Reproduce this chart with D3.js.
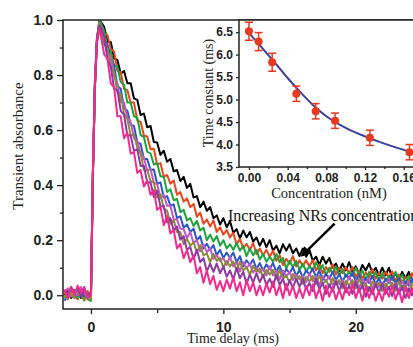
<!DOCTYPE html>
<html>
<head>
<meta charset="utf-8">
<script src="https://cdn.jsdelivr.net/npm/d3@7"></script>
<style>
  body { margin: 0; background: #fff; }
  svg { display: block; }
</style>
</head>
<body>
<svg id="chart" width="413" height="347"></svg>
<script>
// time axis shared by every trace (ms): baseline, rise, then decay every 0.25 ms
const time = [-2.0, -1.75, -1.5, -1.25, -1.0, -0.75, -0.5, -0.25, 0.0,
  0.15, 0.3, 0.45, 0.65,
  1.0, 1.25, 1.5, 1.75, 2.0, 2.25, 2.5, 2.75, 3.0, 3.25, 3.5, 3.75,
  4.0, 4.25, 4.5, 4.75, 5.0, 5.25, 5.5, 5.75, 6.0, 6.25, 6.5, 6.75,
  7.0, 7.25, 7.5, 7.75, 8.0, 8.25, 8.5, 8.75, 9.0, 9.25, 9.5, 9.75,
  10.0, 10.25, 10.5, 10.75, 11.0, 11.25, 11.5, 11.75, 12.0, 12.25, 12.5, 12.75,
  13.0, 13.25, 13.5, 13.75, 14.0, 14.25, 14.5, 14.75, 15.0, 15.25, 15.5, 15.75,
  16.0, 16.25, 16.5, 16.75, 17.0, 17.25, 17.5, 17.75, 18.0, 18.25, 18.5, 18.75,
  19.0, 19.25, 19.5, 19.75, 20.0, 20.25, 20.5, 20.75, 21.0, 21.25, 21.5, 21.75,
  22.0, 22.25, 22.5, 22.75, 23.0, 23.25, 23.5, 23.75, 24.0, 24.25, 24.5];

const traceColors = ["#000000", "#e8461e", "#1fa23e", "#2f55c2", "#c455c6", "#8c8a3a", "#8b3aa3", "#f02a8e"];

const blackTrace = [0.0, 0.02, -0.01, 0.01, 0.02, -0.01, 0.015, 0.0, -0.01,
  0.45, 0.77, 0.93, 1.0,
  0.975, 0.92, 0.92, 0.86, 0.855, 0.805, 0.815, 0.77, 0.77, 0.715, 0.71, 0.655,
  0.66, 0.61, 0.615, 0.557, 0.555, 0.51, 0.525, 0.485, 0.495, 0.45, 0.455, 0.415,
  0.43, 0.39, 0.405, 0.355, 0.36, 0.32, 0.34, 0.307, 0.32, 0.28, 0.29, 0.257,
  0.28, 0.247, 0.27, 0.227, 0.24, 0.207, 0.235, 0.21, 0.23, 0.195, 0.21, 0.18,
  0.205, 0.175, 0.20, 0.162, 0.18, 0.152, 0.185, 0.162, 0.185, 0.152, 0.17, 0.142,
  0.17, 0.14, 0.165, 0.125, 0.14, 0.11, 0.14, 0.115, 0.135, 0.10, 0.115, 0.087,
  0.115, 0.09, 0.12, 0.085, 0.105, 0.077, 0.11, 0.09, 0.115, 0.082, 0.10, 0.072,
  0.10, 0.072, 0.10, 0.062, 0.08, 0.052, 0.085, 0.062, 0.085, 0.052, 0.07];
const redTrace = [0.01, -0.01, 0.02, 0.0, -0.015, 0.02, 0.0, 0.015, 0.0,
  0.44, 0.76, 0.93, 1.0,
  0.95, 0.945, 0.895, 0.885, 0.815, 0.81, 0.75, 0.745, 0.70, 0.70, 0.635, 0.63,
  0.58, 0.577, 0.53, 0.532, 0.475, 0.48, 0.43, 0.437, 0.405, 0.417, 0.365, 0.375,
  0.34, 0.352, 0.32, 0.332, 0.285, 0.30, 0.26, 0.275, 0.25, 0.272, 0.23, 0.247,
  0.22, 0.237, 0.21, 0.227, 0.185, 0.205, 0.17, 0.187, 0.165, 0.19, 0.15, 0.17,
  0.145, 0.165, 0.14, 0.162, 0.125, 0.145, 0.11, 0.132, 0.115, 0.142, 0.105, 0.127,
  0.105, 0.127, 0.105, 0.127, 0.09, 0.112, 0.08, 0.102, 0.085, 0.112, 0.075, 0.10,
  0.08, 0.102, 0.08, 0.102, 0.065, 0.09, 0.06, 0.082, 0.065, 0.095, 0.06, 0.082,
  0.06, 0.085, 0.065, 0.087, 0.05, 0.075, 0.045, 0.067, 0.05, 0.08, 0.045];
const greenTrace = [-0.01, 0.01, 0.0, 0.02, -0.01, 0.0, 0.02, -0.015, -0.02,
  0.45, 0.77, 0.93, 1.0,
  0.96, 0.90, 0.885, 0.835, 0.83, 0.775, 0.765, 0.70, 0.70, 0.65, 0.645, 0.582,
  0.575, 0.522, 0.515, 0.475, 0.48, 0.432, 0.43, 0.375, 0.385, 0.345, 0.35, 0.302,
  0.31, 0.272, 0.28, 0.252, 0.27, 0.235, 0.245, 0.20, 0.22, 0.195, 0.215, 0.18,
  0.20, 0.17, 0.185, 0.165, 0.19, 0.162, 0.18, 0.142, 0.17, 0.145, 0.165, 0.13,
  0.15, 0.122, 0.14, 0.122, 0.15, 0.12, 0.135, 0.097, 0.125, 0.102, 0.125, 0.092,
  0.115, 0.087, 0.105, 0.09, 0.12, 0.092, 0.11, 0.072, 0.10, 0.08, 0.105, 0.072,
  0.095, 0.067, 0.085, 0.07, 0.10, 0.072, 0.09, 0.055, 0.085, 0.062, 0.085, 0.055,
  0.08, 0.052, 0.07, 0.055, 0.085, 0.057, 0.075, 0.04, 0.07, 0.047, 0.07];
const blueTrace = [-0.02, 0.0, 0.015, -0.01, 0.01, 0.02, -0.01, 0.005, -0.015,
  0.44, 0.76, 0.92, 0.99,
  0.925, 0.91, 0.855, 0.835, 0.76, 0.75, 0.68, 0.67, 0.62, 0.615, 0.555, 0.55,
  0.495, 0.495, 0.455, 0.457, 0.405, 0.41, 0.355, 0.36, 0.325, 0.33, 0.28, 0.287,
  0.245, 0.257, 0.23, 0.242, 0.20, 0.215, 0.17, 0.187, 0.165, 0.182, 0.145, 0.165,
  0.135, 0.155, 0.135, 0.155, 0.12, 0.142, 0.105, 0.127, 0.11, 0.13, 0.095, 0.117,
  0.09, 0.112, 0.095, 0.117, 0.085, 0.107, 0.07, 0.095, 0.08, 0.102, 0.07, 0.092,
  0.065, 0.09, 0.075, 0.097, 0.065, 0.09, 0.055, 0.077, 0.06, 0.085, 0.055, 0.077,
  0.05, 0.075, 0.06, 0.082, 0.05, 0.075, 0.04, 0.062, 0.045, 0.07, 0.04, 0.062,
  0.035, 0.06, 0.045, 0.07, 0.04, 0.062, 0.025, 0.05, 0.035, 0.06, 0.03];
const violetTrace = [0.01, 0.025, -0.005, 0.015, 0.0, 0.03, 0.01, -0.01, 0.0,
  0.45, 0.76, 0.92, 0.99,
  0.94, 0.877, 0.87, 0.795, 0.77, 0.702, 0.70, 0.645, 0.63, 0.57, 0.56, 0.515,
  0.50, 0.452, 0.46, 0.407, 0.405, 0.352, 0.365, 0.325, 0.325, 0.275, 0.275, 0.242,
  0.24, 0.207, 0.23, 0.19, 0.20, 0.16, 0.185, 0.157, 0.17, 0.132, 0.145, 0.125,
  0.135, 0.11, 0.14, 0.105, 0.12, 0.087, 0.12, 0.097, 0.115, 0.082, 0.10, 0.082,
  0.095, 0.072, 0.105, 0.072, 0.09, 0.057, 0.09, 0.067, 0.085, 0.055, 0.075, 0.057,
  0.07, 0.047, 0.08, 0.05, 0.07, 0.037, 0.07, 0.05, 0.07, 0.037, 0.055, 0.04,
  0.055, 0.035, 0.07, 0.037, 0.055, 0.025, 0.06, 0.04, 0.06, 0.027, 0.045, 0.03,
  0.045, 0.025, 0.06, 0.027, 0.045, 0.015, 0.05, 0.03, 0.05, 0.017, 0.035];
const oliveTrace = [0.0, -0.015, 0.01, -0.01, 0.02, 0.0, -0.02, 0.01, -0.02,
  0.44, 0.75, 0.92, 0.99,
  0.91, 0.895, 0.835, 0.81, 0.735, 0.73, 0.66, 0.64, 0.58, 0.585, 0.535, 0.517,
  0.455, 0.457, 0.415, 0.41, 0.355, 0.367, 0.315, 0.307, 0.26, 0.273, 0.23, 0.23,
  0.185, 0.205, 0.18, 0.192, 0.155, 0.182, 0.145, 0.152, 0.12, 0.15, 0.125, 0.135,
  0.10, 0.125, 0.105, 0.122, 0.09, 0.122, 0.09, 0.102, 0.075, 0.107, 0.085, 0.097,
  0.065, 0.092, 0.075, 0.092, 0.06, 0.092, 0.06, 0.072, 0.045, 0.077, 0.055, 0.07,
  0.04, 0.067, 0.05, 0.07, 0.04, 0.072, 0.04, 0.055, 0.03, 0.062, 0.04, 0.055,
  0.025, 0.052, 0.035, 0.055, 0.025, 0.06, 0.03, 0.042, 0.015, 0.05, 0.03, 0.045,
  0.015, 0.042, 0.025, 0.045, 0.015, 0.05, 0.02, 0.035, 0.01, 0.042, 0.02];
const purpleTrace = [0.02, 0.0, 0.03, 0.01, 0.025, -0.005, 0.02, 0.0, 0.01,
  0.45, 0.76, 0.92, 0.98,
  0.94, 0.855, 0.83, 0.75, 0.745, 0.67, 0.655, 0.58, 0.58, 0.525, 0.53, 0.47,
  0.47, 0.41, 0.41, 0.357, 0.38, 0.322, 0.325, 0.265, 0.28, 0.235, 0.25, 0.202,
  0.215, 0.165, 0.175, 0.132, 0.165, 0.12, 0.135, 0.087, 0.115, 0.085, 0.115, 0.08,
  0.105, 0.067, 0.09, 0.057, 0.10, 0.062, 0.085, 0.042, 0.075, 0.047, 0.08, 0.047,
  0.075, 0.037, 0.06, 0.03, 0.075, 0.037, 0.06, 0.02, 0.055, 0.027, 0.06, 0.03,
  0.06, 0.022, 0.045, 0.015, 0.06, 0.022, 0.045, 0.005, 0.04, 0.015, 0.05, 0.017,
  0.045, 0.01, 0.035, 0.005, 0.05, 0.012, 0.035, -0.005, 0.03, 0.005, 0.04, 0.01,
  0.04, 0.005, 0.03, -0.003, 0.04, 0.005, 0.03, -0.01, 0.025, 0.0, 0.035];
const pinkTrace = [0.02, -0.01, 0.03, 0.0, 0.035, 0.01, 0.03, -0.01, 0.0,
  0.45, 0.76, 0.92, 0.97,
  0.875, 0.86, 0.77, 0.755, 0.65, 0.65, 0.57, 0.59, 0.515, 0.52, 0.445, 0.455,
  0.395, 0.417, 0.365, 0.382, 0.31, 0.322, 0.255, 0.287, 0.225, 0.237, 0.17, 0.187,
  0.135, 0.165, 0.12, 0.145, 0.08, 0.102, 0.045, 0.09, 0.04, 0.07, 0.02, 0.052,
  0.015, 0.057, 0.025, 0.065, 0.015, 0.047, 0.0, 0.055, 0.015, 0.047, 0.0, 0.035,
  0.0, 0.042, 0.01, 0.05, 0.0, 0.035, -0.01, 0.042, 0.0, 0.035, -0.01, 0.025,
  -0.01, 0.032, 0.0, 0.04, -0.01, 0.025, -0.02, 0.035, -0.005, 0.03, -0.015, 0.02,
  -0.015, 0.03, 0.0, 0.04, -0.01, 0.025, -0.02, 0.032, -0.01, 0.025, -0.02, 0.015,
  -0.02, 0.025, -0.005, 0.035, -0.015, 0.02, -0.025, 0.03, -0.01, 0.025, -0.02];

const traces = [blackTrace, redTrace, greenTrace, blueTrace, violetTrace, oliveTrace, purpleTrace, pinkTrace];

// inset: time constant vs concentration
const concentration = [0.0, 0.01, 0.024, 0.049, 0.069, 0.089, 0.125, 0.166];
const timeConstant = [6.52, 6.29, 5.83, 5.13, 4.74, 4.53, 4.15, 3.83];
const timeConstantErr = [0.2, 0.2, 0.2, 0.17, 0.17, 0.17, 0.17, 0.17];
const fitConcentration = [0.0, 0.01, 0.02, 0.03, 0.04, 0.05, 0.06, 0.07, 0.08, 0.10, 0.12, 0.14, 0.16, 0.18];
const fitTimeConstant = [6.48, 6.24, 5.99, 5.74, 5.48, 5.24, 5.01, 4.80, 4.63, 4.37, 4.18, 4.02, 3.88, 3.76];

const yTicks = [0.0, 0.2, 0.4, 0.6, 0.8, 1.0];
const yMinorTicks = [0.1, 0.3, 0.5, 0.7, 0.9];
const xTicks = [0, 10, 20];
const xMinorTicks = [5, 15];
const insetYTicks = [3.5, 4.0, 4.5, 5.0, 5.5, 6.0, 6.5];
const insetXTicks = [0.0, 0.04, 0.08, 0.12, 0.16];
const insetXMinorTicks = [0.02, 0.06, 0.10, 0.14];

const svg = d3.select("#chart");
const sans = "'Liberation Sans', Arial, sans-serif";
const serif = "'Liberation Serif', 'Times New Roman', serif";

const main = { left: 63, right: 422, top: 20, bottom: 309 };
const x = d3.scaleLinear([-2.11, 25], [main.left, main.right]);
const y = d3.scaleLinear([-0.05, 1.0], [main.bottom, main.top]);

svg.append("defs").append("clipPath")
  .attr("id", "mainClip")
  .append("rect")
  .attr("x", main.left)
  .attr("y", main.top)
  .attr("width", main.right - main.left)
  .attr("height", main.bottom - main.top);

const line = d3.line()
  .x((d, i) => x(time[i]))
  .y(d => y(d));

svg.append("g")
  .attr("clip-path", "url(#mainClip)")
  .selectAll("path")
  .data(traces)
  .join("path")
  .attr("d", d => line(d))
  .attr("fill", "none")
  .attr("stroke", (d, i) => traceColors[i])
  .attr("stroke-width", 2)
  .attr("stroke-linejoin", "round");

// main frame + axes
svg.append("rect")
  .attr("x", main.left)
  .attr("y", main.top)
  .attr("width", main.right - main.left)
  .attr("height", main.bottom - main.top)
  .attr("fill", "none")
  .attr("stroke", "#222")
  .attr("stroke-width", 1.5);

const styleAxis = (g, size) => {
  g.select(".domain").remove();
  g.selectAll("line").attr("stroke", "#222").attr("stroke-width", 1.3);
  g.selectAll("text")
    .attr("font-family", sans)
    .attr("font-weight", "bold")
    .attr("font-size", size)
    .attr("fill", "#222");
};

svg.append("g")
  .attr("transform", `translate(${main.left},0)`)
  .call(d3.axisLeft(y).tickValues(yTicks).tickSize(6).tickPadding(4).tickFormat(d3.format(".1f")))
  .call(g => styleAxis(g, 14));
svg.append("g")
  .attr("transform", `translate(${main.left},0)`)
  .call(d3.axisLeft(y).tickValues(yMinorTicks).tickSize(3).tickFormat(""))
  .call(g => styleAxis(g, 14));

svg.append("g")
  .attr("transform", `translate(0,${main.bottom})`)
  .call(d3.axisBottom(x).tickValues(xTicks).tickSize(5).tickPadding(8).tickFormat(d3.format("d")))
  .call(g => styleAxis(g, 14));
svg.append("g")
  .attr("transform", `translate(0,${main.bottom})`)
  .call(d3.axisBottom(x).tickValues(xMinorTicks).tickSize(4).tickFormat(""))
  .call(g => styleAxis(g, 14));

svg.append("text")
  .attr("transform", `translate(23,146) rotate(-90)`)
  .attr("text-anchor", "middle")
  .attr("font-family", serif)
  .attr("font-size", 15)
  .attr("fill", "#222")
  .text("Transient absorbance");

svg.append("text")
  .attr("x", 233)
  .attr("y", 343)
  .attr("text-anchor", "middle")
  .attr("font-family", serif)
  .attr("font-size", 14)
  .attr("fill", "#222")
  .text("Time delay (ms)");

// annotation arrow
svg.append("defs").append("marker")
  .attr("id", "arrowHead")
  .attr("viewBox", "0 0 10 10")
  .attr("refX", 8)
  .attr("refY", 5)
  .attr("markerWidth", 4)
  .attr("markerHeight", 4)
  .attr("orient", "auto")
  .append("path")
  .attr("d", "M0,0L10,5L0,10z")
  .attr("fill", "#000");

svg.append("line")
  .attr("x1", x(18.4))
  .attr("y1", y(0.26))
  .attr("x2", x(15.95))
  .attr("y2", y(0.145))
  .attr("stroke", "#000")
  .attr("stroke-width", 2.5)
  .attr("marker-end", "url(#arrowHead)");

svg.append("text")
  .attr("x", 228)
  .attr("y", 221)
  .attr("font-family", serif)
  .attr("font-size", 16)
  .attr("fill", "#111")
  .text("Increasing NRs concentration");

// inset
const inset = { left: 239, right: 425, top: 20, bottom: 167 };
const ix = d3.scaleLinear([-0.0103, 0.182], [inset.left, inset.right]);
const iy = d3.scaleLinear([3.5, 6.77], [inset.bottom, inset.top]);

svg.append("rect")
  .attr("x", inset.left)
  .attr("y", inset.top)
  .attr("width", inset.right - inset.left)
  .attr("height", inset.bottom - inset.top)
  .attr("fill", "#fff")
  .attr("stroke", "#222")
  .attr("stroke-width", 1.5);

svg.append("path")
  .datum(fitConcentration)
  .attr("d", d3.line().curve(d3.curveMonotoneX)
    .x(d => ix(d))
    .y((d, i) => iy(fitTimeConstant[i])))
  .attr("fill", "none")
  .attr("stroke", "#3b3f9c")
  .attr("stroke-width", 2);

const points = svg.append("g")
  .selectAll("g")
  .data(concentration)
  .join("g")
  .attr("transform", (d, i) => `translate(${ix(d)},${iy(timeConstant[i])})`);
points.append("line")
  .attr("y1", (d, i) => iy(timeConstant[i] + timeConstantErr[i]) - iy(timeConstant[i]))
  .attr("y2", (d, i) => iy(timeConstant[i] - timeConstantErr[i]) - iy(timeConstant[i]))
  .attr("stroke", "#e8391f")
  .attr("stroke-width", 1.5);
points.selectAll(".cap")
  .data((d, i) => [timeConstant[i] + timeConstantErr[i], timeConstant[i] - timeConstantErr[i]].map(v => [v, timeConstant[i]]))
  .join("line")
  .attr("x1", -4)
  .attr("x2", 4)
  .attr("y1", d => iy(d[0]) - iy(d[1]))
  .attr("y2", d => iy(d[0]) - iy(d[1]))
  .attr("stroke", "#e8391f")
  .attr("stroke-width", 1.5);
points.append("circle")
  .attr("r", 4)
  .attr("fill", "#e8391f");

svg.append("g")
  .attr("transform", `translate(${inset.left},0)`)
  .call(d3.axisLeft(iy).tickValues(insetYTicks).tickSize(3).tickPadding(3).tickFormat(d3.format(".1f")))
  .call(g => styleAxis(g, 12));
svg.append("g")
  .attr("transform", `translate(0,${inset.bottom})`)
  .call(d3.axisBottom(ix).tickValues(insetXTicks).tickSize(3).tickPadding(3).tickFormat(d3.format(".2f")))
  .call(g => styleAxis(g, 12));
svg.append("g")
  .attr("transform", `translate(0,${inset.bottom})`)
  .call(d3.axisBottom(ix).tickValues(insetXMinorTicks).tickSize(2).tickFormat(""))
  .call(g => styleAxis(g, 12));

svg.append("text")
  .attr("transform", `translate(213,93) rotate(-90)`)
  .attr("text-anchor", "middle")
  .attr("font-family", serif)
  .attr("font-size", 14)
  .attr("fill", "#222")
  .text("Time constant (ms)");

svg.append("text")
  .attr("x", 329)
  .attr("y", 198)
  .attr("text-anchor", "middle")
  .attr("font-family", serif)
  .attr("font-size", 14.5)
  .attr("fill", "#222")
  .text("Concentration (nM)");
</script>
</body>
</html>
